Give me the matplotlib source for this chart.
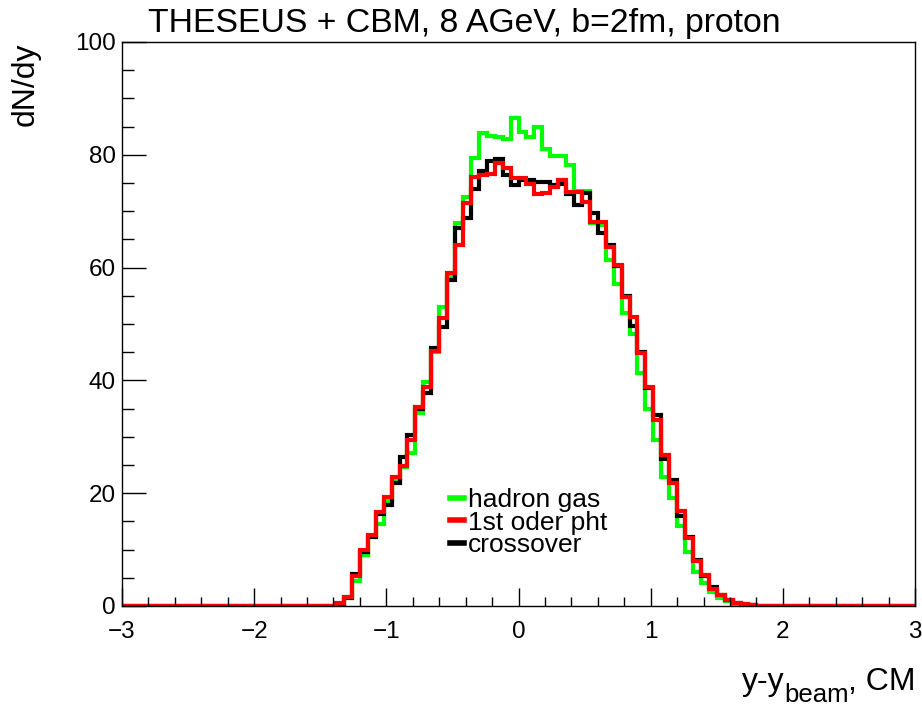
import matplotlib as mpl
mpl.use('Agg')
import matplotlib.pyplot as plt
from matplotlib.lines import Line2D
from matplotlib.ticker import MultipleLocator
import numpy as np

# binning: 100 bins from -3 to 3, non-zero bins start at index 27
edges = np.linspace(-3, 3, 101)
first_bin = 27

hadron_gas = [0.2, 1.6, 4.5, 9.0, 12.3, 14.5, 18.7, 22.2, 24.6, 27.1,
              34.2, 39.8, 45.0, 53.1, 58.5, 67.9, 72.6, 79.5, 83.8, 83.4,
              83.1, 82.8, 86.5, 84.1, 83.1, 85.0, 81.1, 79.7, 79.7, 78.2,
              73.6, 73.6, 67.9, 67.5, 61.3, 57.1, 52.0, 48.2, 41.4, 34.9,
              29.4, 22.9, 19.1, 14.1, 9.6, 6.1, 4.0, 2.4, 1.5, 0.8,
              0.4, 0.2, 0.1, 0.0]
first_order = [0.5, 1.6, 5.3, 9.9, 12.6, 16.7, 19.4, 22.8, 24.8, 29.4,
               35.3, 38.8, 45.3, 51.0, 59.0, 64.0, 71.4, 76.1, 76.4, 76.6,
               78.5, 77.6, 75.8, 75.8, 74.9, 73.1, 73.2, 74.3, 75.5, 73.4,
               73.4, 71.6, 68.1, 68.1, 63.7, 60.5, 54.8, 51.3, 44.8, 38.9,
               33.0, 26.8, 21.8, 16.9, 12.0, 8.0, 5.5, 3.1, 1.9, 1.1,
               0.6, 0.35, 0.15, 0.05]
crossover = [0.4, 1.5, 5.6, 9.5, 12.2, 16.4, 17.9, 21.8, 26.5, 30.3,
             35.0, 37.7, 45.8, 49.5, 57.8, 67.0, 68.8, 73.9, 77.2, 78.9,
             79.2, 76.5, 74.6, 75.5, 75.5, 75.2, 75.2, 74.6, 74.8, 73.0,
             71.1, 73.2, 69.6, 66.1, 64.0, 60.2, 55.0, 49.6, 45.0, 38.7,
             33.9, 26.1, 22.3, 16.0, 12.2, 8.2, 5.3, 3.3, 1.9, 1.0,
             0.6, 0.3, 0.1, 0.0]


def full(vals):
    h = np.zeros(len(edges) - 1)
    h[first_bin:first_bin + len(vals)] = vals
    return h


plt.rcParams['font.family'] = ['Liberation Sans', 'DejaVu Sans']

W, H = 922, 710
fig = plt.figure(figsize=(W / 100, H / 100), dpi=100)
ax = fig.add_axes([122 / W, 104 / H, 793 / W, 564 / H])

ax.stairs(full(hadron_gas), edges, color='#00ff00', lw=3)
ax.stairs(full(crossover), edges, color='black', lw=3)
ax.stairs(full(first_order), edges, color='#ff0000', lw=3)

ax.set_xlim(-3, 3)
ax.set_ylim(0, 100)
ax.xaxis.set_major_locator(MultipleLocator(1))
ax.xaxis.set_minor_locator(MultipleLocator(0.2))
ax.yaxis.set_major_locator(MultipleLocator(20))
ax.yaxis.set_minor_locator(MultipleLocator(5))
ax.tick_params(axis='x', which='major', direction='in', length=13, width=1, labelsize=17.5, pad=11)
ax.tick_params(axis='x', which='minor', direction='in', length=6.5, width=1)
ax.tick_params(axis='y', which='major', direction='in', length=17, width=1, labelsize=17.5, pad=4.5)
ax.tick_params(axis='y', which='minor', direction='in', length=8.5, width=1)
for s in ax.spines.values():
    s.set_linewidth(1)

fig.text(148 / W, 1 - 32 / H, 'THESEUS + CBM, 8 AGeV, b=2fm, proton',
         fontsize=24.3, va='baseline', ha='left')
fig.text(26 / W, 1 - 42 / H, 'dN/dy', fontsize=23, rotation=90,
         ha='center', va='top')

# x title built from pieces, ROOT style subscript
r = fig.canvas.get_renderer()
t1 = fig.text(915 / W, 1 - 690 / H, ', CM', fontsize=23, ha='right', va='baseline')
x1 = t1.get_window_extent(r).x0
t2 = fig.text((x1 + 1) / W, 1 - 702 / H, 'beam', fontsize=18.5, ha='right', va='baseline')
x2 = t2.get_window_extent(r).x0
fig.text((x2 + 1) / W, 1 - 690 / H, 'y-y', fontsize=23, ha='right', va='baseline')

handles = [Line2D([], [], color='#00ff00', lw=4),
           Line2D([], [], color='#ff0000', lw=4),
           Line2D([], [], color='black', lw=4)]
labels = ['hadron gas', '1st oder pht', 'crossover']
ax.legend(handles, labels, loc='upper left', bbox_to_anchor=(0.40, 0.228),
          frameon=False, fontsize=19, handlelength=0.55, handletextpad=0.15,
          labelspacing=-0.05, borderaxespad=0)

fig.savefig('out.png', dpi=100)
